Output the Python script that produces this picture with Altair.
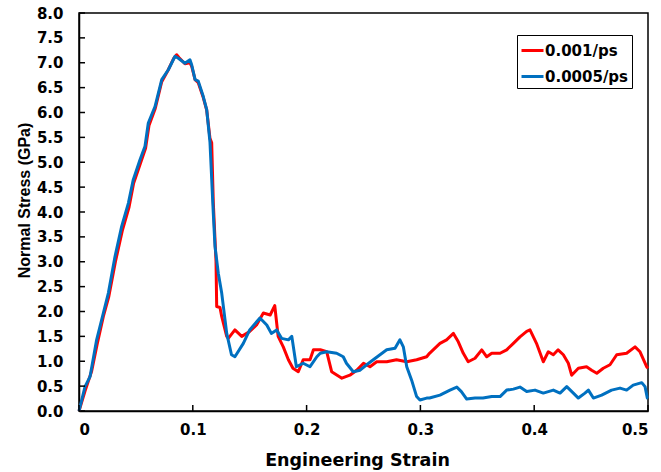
import altair as alt
import pandas as pd

# Series 1: 0.001/ps (red)
red_x = [0.0, 0.0053, 0.0111, 0.0160, 0.0214, 0.0262, 0.0320, 0.0380, 0.0440, 0.0480,
         0.0540, 0.0585, 0.0615, 0.0670, 0.0727, 0.0785, 0.0830, 0.0858, 0.0880, 0.0931,
         0.0975, 0.0990, 0.1020, 0.1048, 0.1092, 0.1122, 0.1151, 0.1166, 0.1180, 0.1204,
         0.1210, 0.1239, 0.1254, 0.1298, 0.1312, 0.1370, 0.1430, 0.1500, 0.1560, 0.1620,
         0.1680, 0.1720, 0.1750, 0.1795, 0.1840, 0.1880, 0.1927, 0.1970, 0.2030, 0.2060,
         0.2120, 0.2177, 0.2220, 0.2310, 0.2380, 0.2440, 0.2500, 0.2557, 0.2616, 0.2704,
         0.2790, 0.2880, 0.2967, 0.3055, 0.3080, 0.3172, 0.3230, 0.3290, 0.3333, 0.3377,
         0.3420, 0.3480, 0.3539, 0.3583, 0.3627, 0.3700, 0.3758, 0.3817, 0.3875, 0.3934,
         0.3963, 0.4020, 0.4080, 0.4124, 0.4168, 0.4210, 0.4256, 0.4300, 0.4329, 0.4388,
         0.4460, 0.4505, 0.4550, 0.4607, 0.4666, 0.4725, 0.4812, 0.4886, 0.4930, 0.4988,
         0.5000]
red_y = [0.0, 0.40, 0.80, 1.35, 1.90, 2.30, 3.00, 3.62, 4.10, 4.58,
         4.98, 5.28, 5.74, 6.08, 6.62, 6.86, 7.08, 7.16, 7.10, 6.98,
         7.00, 6.93, 6.66, 6.60, 6.30, 6.05, 5.48, 5.39, 4.20, 3.00,
         2.10, 2.08, 1.90, 1.50, 1.46, 1.63, 1.50, 1.60, 1.73, 1.97,
         1.93, 2.12, 1.50, 1.29, 1.03, 0.86, 0.79, 1.03, 1.03, 1.23,
         1.23, 1.19, 0.79, 0.66, 0.72, 0.82, 0.96, 0.89, 0.99, 0.99,
         1.03, 0.99, 1.03, 1.09, 1.16, 1.36, 1.43, 1.56, 1.39, 1.16,
         0.99, 1.06, 1.23, 1.09, 1.16, 1.16, 1.23, 1.36, 1.49, 1.60,
         1.63, 1.36, 0.99, 1.19, 1.13, 1.23, 1.13, 0.96, 0.72, 0.86,
         0.89, 0.82, 0.76, 0.86, 0.93, 1.13, 1.16, 1.29, 1.19, 0.89,
         0.86]

# Series 2: 0.0005/ps (blue)
blue_x = [0.0, 0.0053, 0.0097, 0.0155, 0.0214, 0.0258, 0.0316, 0.0375, 0.0434, 0.0477,
          0.0536, 0.0580, 0.0609, 0.0668, 0.0727, 0.0785, 0.0844, 0.0873, 0.0931, 0.0975,
          0.0990, 0.1020, 0.1048, 0.1092, 0.1122, 0.1151, 0.1180, 0.1195, 0.1224, 0.1254,
          0.1298, 0.1340, 0.1370, 0.1444, 0.1500, 0.1590, 0.1650, 0.1690, 0.1737, 0.1780,
          0.1840, 0.1870, 0.1910, 0.1970, 0.2030, 0.2090, 0.2120, 0.2177, 0.2264, 0.2322,
          0.2350, 0.2410, 0.2470, 0.2528, 0.2586, 0.2645, 0.2704, 0.2777, 0.2820, 0.2850,
          0.2880, 0.2923, 0.2967, 0.2996, 0.3055, 0.3080, 0.3172, 0.3260, 0.3320, 0.3360,
          0.3407, 0.3480, 0.3550, 0.3627, 0.3700, 0.3758, 0.3817, 0.3875, 0.3934, 0.4007,
          0.4080, 0.4168, 0.4227, 0.4286, 0.4344, 0.4388, 0.4446, 0.4476, 0.4520, 0.4593,
          0.4680, 0.4754, 0.4812, 0.4870, 0.4945, 0.4974, 0.4994, 0.5000]
blue_y = [0.0, 0.49, 0.69, 1.43, 1.97, 2.37, 3.10, 3.71, 4.18, 4.65,
          5.05, 5.32, 5.79, 6.12, 6.66, 6.86, 7.13, 7.09, 6.99, 7.06,
          6.96, 6.66, 6.63, 6.32, 6.06, 5.40, 3.98, 3.31, 2.77, 2.37,
          1.56, 1.13, 1.09, 1.36, 1.63, 1.87, 1.73, 1.56, 1.63, 1.46,
          1.43, 1.50, 0.89, 0.96, 0.89, 1.09, 1.16, 1.19, 1.16, 1.09,
          0.96, 0.79, 0.82, 0.93, 1.03, 1.13, 1.23, 1.26, 1.43, 1.29,
          0.89, 0.62, 0.29, 0.22, 0.26, 0.26, 0.32, 0.42, 0.48, 0.39,
          0.24, 0.26, 0.26, 0.29, 0.29, 0.42, 0.44, 0.48, 0.39, 0.42,
          0.36, 0.42, 0.36, 0.49, 0.36, 0.26, 0.36, 0.42, 0.26, 0.32,
          0.42, 0.46, 0.42, 0.52, 0.57, 0.49, 0.26, 0.25]

series_names = ["0.001/ps", "0.0005/ps"]
series_colors = ["#FF0000", "#0070C0"]

y_ticks = [i * 0.5 for i in range(17)]
x_ticks = [0.0, 0.1, 0.2, 0.3, 0.4, 0.5]

df = pd.concat([
    pd.DataFrame({"strain": red_x, "stress": red_y, "series": series_names[0], "order": range(len(red_x))}),
    pd.DataFrame({"strain": blue_x, "stress": blue_y, "series": series_names[1], "order": range(len(blue_x))}),
])

WIDE = "DejaVu Sans"
NARROW = "Liberation Sans"
W, H = 569, 398

x_scale = alt.Scale(domain=[0, 0.5], nice=False, zero=False)
y_scale = alt.Scale(domain=[0, 8], nice=False, zero=False)

x_axis = alt.Axis(title="Engineering Strain", values=x_ticks, ticks=False, grid=False,
                  labelExpr="datum.value == 0 ? '0' : format(datum.value, '.1f')",
                  labelPadding=11, labelOverlap=False, labelBound=False,
                  titleFont=WIDE, titleFontSize=17.5,
                  titleX=278, titleY=54, titleBaseline="alphabetic", titleAlign="center")
y_axis = alt.Axis(title="Normal Stress (GPa)", values=y_ticks, ticks=False, grid=False,
                  format=".1f", labelPadding=16, labelOverlap=False, labelBound=False,
                  titleFont=NARROW, titleFontSize=16,
                  titleX=-50, titleY=187, titleAngle=270,
                  titleBaseline="alphabetic", titleAlign="center")

lines = alt.Chart(df).mark_line(strokeWidth=3, strokeJoin="round").encode(
    x=alt.X("strain:Q", scale=x_scale, axis=x_axis),
    y=alt.Y("stress:Q", scale=y_scale, axis=y_axis),
    color=alt.Color("series:N",
                    scale=alt.Scale(domain=series_names, range=series_colors),
                    legend=alt.Legend(title=None, orient="none", legendX=438, legendY=22,
                                      symbolType="stroke", symbolStrokeWidth=3, symbolSize=484,
                                      labelFontSize=15, labelFont=WIDE, labelFontWeight="bold",
                                      labelColor="black", labelOffset=0,
                                      strokeColor="black", padding=3, rowPadding=5,
                                      fillColor="white")),
    order="order:Q",
)

ytick_df = pd.DataFrame({"v": y_ticks})
xtick_df = pd.DataFrame({"v": x_ticks})

yticks = alt.Chart(ytick_df).mark_rule(color="black", strokeWidth=1.5).encode(
    y=alt.Y("v:Q", scale=y_scale, axis=y_axis),
    x=alt.value(0), x2=alt.value(6),
)
xticks = alt.Chart(xtick_df).mark_rule(color="black", strokeWidth=1.5).encode(
    x=alt.X("v:Q", scale=x_scale, axis=x_axis),
    y=alt.value(H), y2=alt.value(H - 6),
)

chart = alt.layer(lines, yticks, xticks).properties(
    width=W, height=H,
    autosize=alt.AutoSizeParams(type="none"),
    padding={"left": 79, "top": 13, "right": 13, "bottom": 61},
).configure_view(
    stroke="black", strokeWidth=1.5,
).configure_axis(
    labelFont=WIDE, labelFontSize=15, labelFontWeight="bold", labelColor="black",
    titleFontWeight="bold", titleColor="black",
    domainColor="black", domainWidth=1.5,
)

chart.save("out.html", embed_options={"renderer": "svg", "actions": False})
